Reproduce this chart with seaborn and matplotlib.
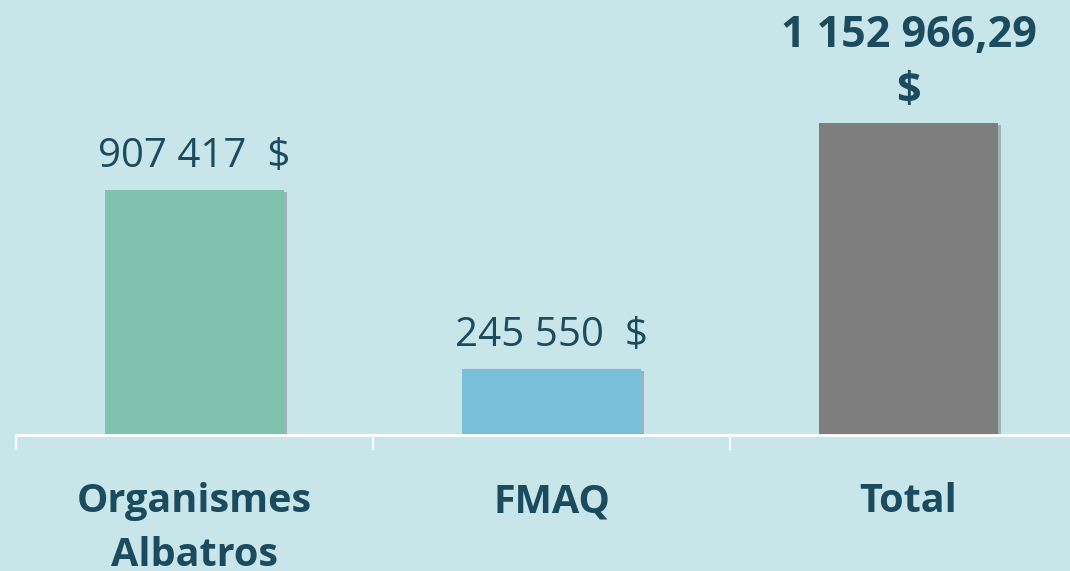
import matplotlib
matplotlib.use("Agg")
import matplotlib.pyplot as plt
import matplotlib.patheffects as pe
import seaborn as sns
import pandas as pd

categories = ["Organismes\nAlbatros", "FMAQ", "Total"]
values = [907417, 245550, 1152966.29]
value_labels = ["907 417  $", "245 550  $", "1 152 966,29\n$"]
bar_colors = ["#7FC2AE", "#7BBED9", "#7F7F7F"]

bg = "#C8E6EA"
text_color = "#1B4B5E"

sns.set_style("white")
plt.rcParams["font.family"] = ["Open Sans", "DejaVu Sans"]

df = pd.DataFrame({"cat": categories, "val": values})

fig = plt.figure(figsize=(10.7, 5.71), dpi=100)
fig.patch.set_facecolor(bg)
ax = fig.add_axes([16 / 1070, 136 / 571, 1071 / 1070, 435 / 571])
ax.set_facecolor(bg)

sns.barplot(data=df, x="cat", y="val", hue="cat", palette=bar_colors,
            width=0.504, legend=False, ax=ax, saturation=1, linewidth=0)

# soft shadow under the bars
for p in ax.patches:
    p.set_path_effects([pe.SimplePatchShadow(offset=(1.5, -1.5), alpha=0.3, shadow_rgbFace="#404040"),
                        pe.Normal()])

ax.set_xlim(-0.5, 2.5)
ax.set_ylim(0, 1609500)
ax.set_xlabel("")
ax.set_ylabel("")
ax.set_yticks([])

for s in ["top", "left", "right"]:
    ax.spines[s].set_visible(False)
ax.spines["bottom"].set_color("white")
ax.spines["bottom"].set_linewidth(2)

ax.set_xticks([-0.5, 0.5, 1.5, 2.5], minor=True)
ax.tick_params(axis="x", which="minor", bottom=True, length=11, width=1.5,
               color="white", direction="out")
ax.tick_params(axis="x", which="major", bottom=True, length=0, pad=34)
for lbl in ax.get_xticklabels():
    lbl.set_fontsize(28.5)
    lbl.set_fontweight("bold")
    lbl.set_color(text_color)
    lbl.set_linespacing(1.5)

for i, (v, t) in enumerate(zip(values, value_labels)):
    bold = i == 2
    ax.annotate(t, (i, v), xytext=(0, 9 if not bold else 7.5), textcoords="offset points",
                ha="center", va="bottom", fontsize=29 if not bold else 31,
                fontweight="bold" if bold else "normal", color=text_color,
                linespacing=1.38, annotation_clip=False)

fig.savefig("out.png", dpi=100, facecolor=bg)
